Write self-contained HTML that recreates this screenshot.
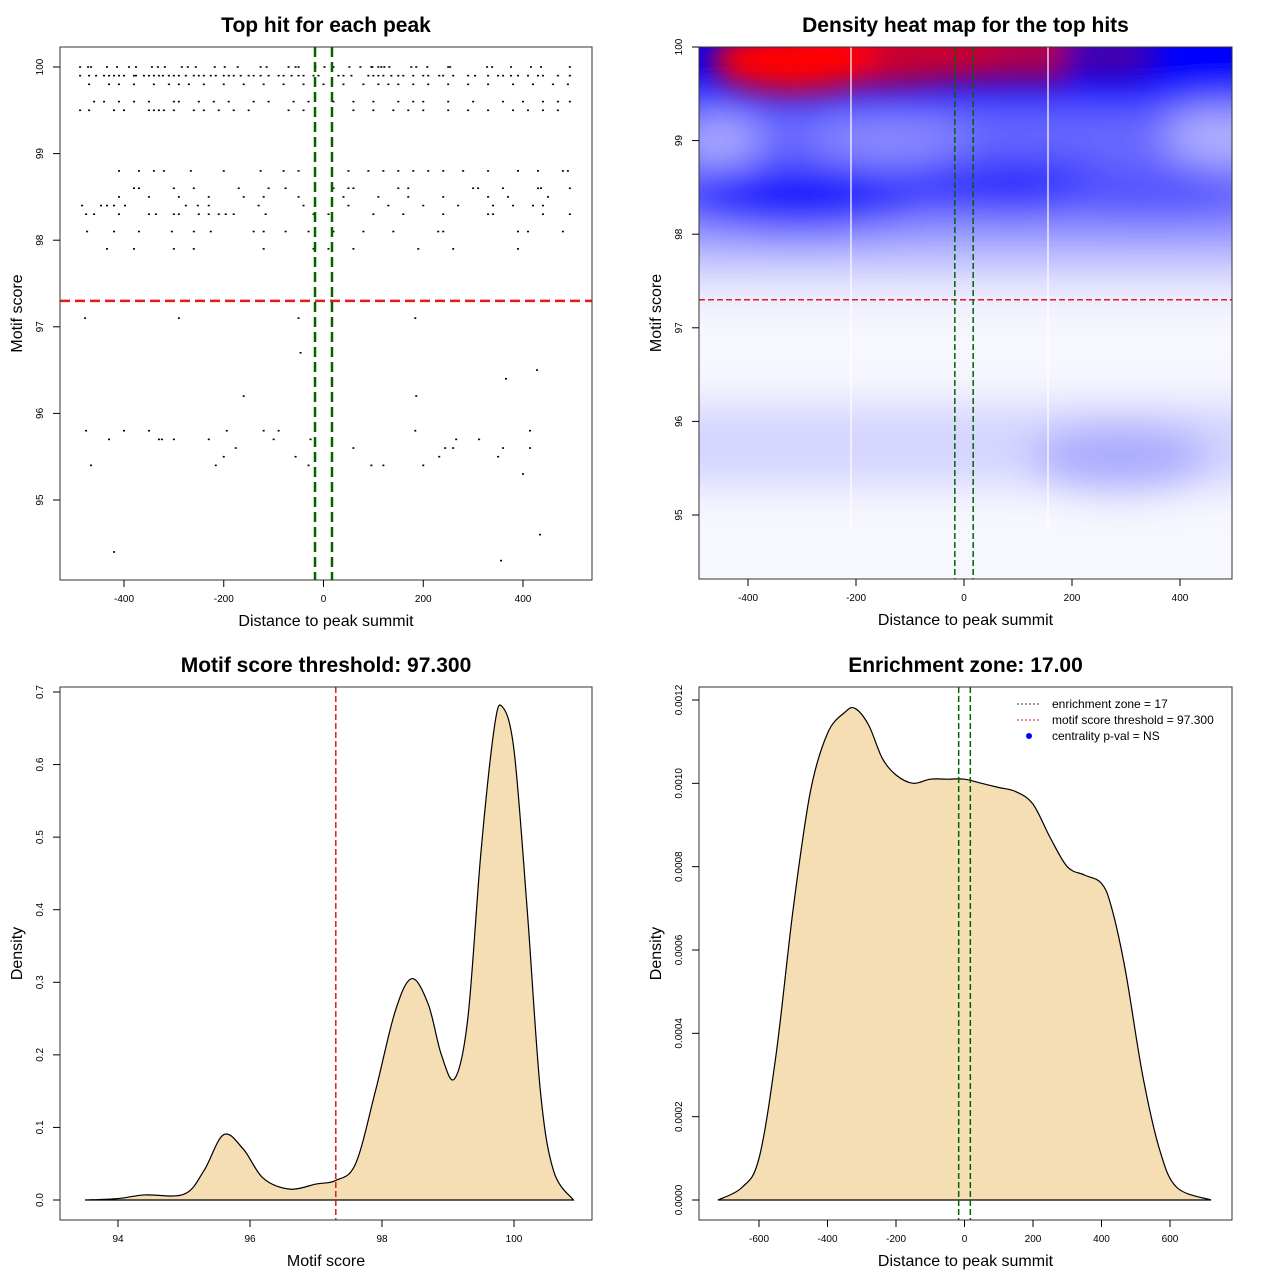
<!DOCTYPE html>
<html><head><meta charset="utf-8"><style>
html,body{margin:0;padding:0;background:#fff;}
svg{display:block;font-family:"Liberation Sans",sans-serif;}
</style></head><body>
<svg id="c" width="1280" height="1280" viewBox="0 0 1280 1280" xmlns="http://www.w3.org/2000/svg">
<defs>
<filter id="blur" x="-50%" y="-50%" width="200%" height="200%"><feGaussianBlur stdDeviation="20"/></filter>
<filter id="blur2" x="-50%" y="-50%" width="200%" height="200%"><feGaussianBlur stdDeviation="14"/></filter>
<clipPath id="hmclip"><rect x="699" y="47" width="533" height="532"/></clipPath>
</defs>
<g id="heat" clip-path="url(#hmclip)">
<rect x="699" y="47" width="533" height="532" fill="#f7f7ff"/>
<g filter="url(#blur)">
<rect x="620" y="405" width="700" height="80" fill="#d4d4ff"/>
<ellipse cx="1120" cy="458" rx="90" ry="32" fill="#a8a8ff"/>
<rect x="620" y="245" width="700" height="55" fill="#e4e4ff"/>
<rect x="620" y="100" width="700" height="150" fill="#6a6aff"/>
<rect x="620" y="225" width="700" height="40" fill="#a8a8ff"/>
<ellipse cx="890" cy="140" rx="80" ry="22" fill="#9090ff"/>
<ellipse cx="720" cy="140" rx="40" ry="25" fill="#b0b0ff"/>
<ellipse cx="1225" cy="135" rx="60" ry="30" fill="#b4b4ff"/>
<ellipse cx="800" cy="198" rx="120" ry="34" fill="#0a0aff"/>
<ellipse cx="1010" cy="184" rx="120" ry="26" fill="#2828ff"/>
<ellipse cx="1150" cy="195" rx="90" ry="25" fill="#5050ff"/>
<rect x="620" y="-20" width="700" height="128" fill="#0000ff"/>
</g>
<g filter="url(#blur2)">
<rect x="800" y="-20" width="270" height="100" fill="#b00048"/>
<ellipse cx="880" cy="55" rx="120" ry="30" fill="#c8002e"/>
<ellipse cx="795" cy="60" rx="85" ry="32" fill="#ff0000"/>
<ellipse cx="1110" cy="55" rx="50" ry="22" fill="#4a00a8"/>
</g>
<line x1="851" y1="47" x2="851" y2="530" stroke="#fff" stroke-width="1.2"/>
<line x1="1048" y1="47" x2="1048" y2="530" stroke="#fff" stroke-width="1.2"/>
</g>
</svg>
<script>
// ---------- data ----------
const scatterScores = [100,99.9,99.8,99.6,99.5,98.8,98.6,98.5,98.4,98.3,98.1,97.9,97.1,96.7,96.5,96.4,96.2,95.8,95.7,95.6,95.5,95.4,95.3,94.6,94.4,94.3];
const scatterDistances = [
[-488,-472,-466,-434,-414,-390,-376,-344,-332,-318,-284,-272,-256,-218,-198,-172,-126,-114,-70,-56,-50,-16,2,20,52,74,96,98,110,116,122,132,176,186,208,250,254,328,338,376,416,436,494],
[-488,-470,-456,-440,-430,-420,-410,-400,-380,-376,-360,-350,-340,-330,-322,-310,-300,-290,-276,-260,-250,-240,-226,-216,-200,-190,-180,-166,-150,-140,-126,-110,-90,-80,-64,-50,-40,-20,-10,30,40,56,90,100,110,120,136,150,160,180,200,210,232,240,260,290,304,330,350,360,376,390,410,430,440,470,494],
[-470,-430,-410,-380,-340,-310,-290,-270,-240,-200,-160,-120,-80,-40,0,40,80,110,130,150,180,210,250,290,330,380,420,460,490],
[-460,-440,-410,-380,-350,-300,-290,-250,-220,-190,-140,-110,-60,-30,20,60,100,150,180,200,250,300,360,400,440,470,494],
[-488,-470,-420,-400,-350,-340,-330,-320,-300,-260,-240,-210,-180,-150,-70,-40,60,100,140,170,200,250,290,330,380,410,440,470],
[-410,-370,-340,-320,-266,-200,-126,-80,-50,50,90,120,150,180,210,240,280,330,390,430,480,490],
[-380,-370,-300,-260,-170,-110,-76,20,50,60,150,170,300,310,360,430,436,494],
[-410,-350,-290,-230,-160,-120,-50,40,110,170,240,330,370,450],
[-484,-446,-434,-420,-398,-276,-252,-230,-130,-40,50,130,200,270,340,380,420,440],
[-476,-460,-410,-350,-336,-300,-290,-250,-230,-210,-196,-180,-116,-20,10,100,160,240,330,340,440,494],
[-474,-420,-370,-304,-260,-226,-140,-120,-76,-30,20,80,140,230,240,390,410,480],
[-434,-380,-300,-260,-120,-20,10,60,190,260,390],
[-478,-290,-50,184],[-46],[428],[366],[-160,186],
[-476,-400,-350,-194,-120,-90,184,414],
[-430,-330,-324,-300,-230,-100,-26,266,312],
[-176,60,244,260,360,414],
[-200,-56,232,350],
[-466,-216,-30,96,120,200],
[400],[434],[-420],[356]
];
const scoreDensX = [93.5,94,94.4,95,95.3,95.6,95.9,96.2,96.6,97,97.3,97.6,97.9,98.2,98.45,98.7,98.9,99.1,99.3,99.5,99.7,99.82,100,100.2,100.4,100.6,100.9];
const scoreDensY = [0,0.002,0.007,0.008,0.04,0.09,0.07,0.03,0.015,0.022,0.027,0.05,0.15,0.26,0.305,0.27,0.2,0.167,0.25,0.48,0.65,0.68,0.62,0.4,0.15,0.04,0];
const distDensX = [-720,-650,-600,-550,-500,-450,-400,-350,-320,-280,-240,-200,-150,-100,-50,0,50,100,150,200,250,300,350,400,430,470,520,570,620,720];
const distDensY = [0,0.00003,0.0001,0.00035,0.0007,0.00098,0.00112,0.00117,0.00118,0.00114,0.00106,0.00102,0.001,0.00101,0.00101,0.00101,0.001,0.00099,0.00098,0.00095,0.00087,0.0008,0.00078,0.00076,0.0007,0.00055,0.0003,0.00012,0.00003,0];
const threshold = 97.3;
const zone = 17;
const p1XTicks=[-400,-200,0,200,400], p1YTicks=[95,96,97,98,99,100];
const p3XTicks=[94,96,98,100], p3YTicks=[0,0.1,0.2,0.3,0.4,0.5,0.6,0.7];
const p3YLabels=["0.0","0.1","0.2","0.3","0.4","0.5","0.6","0.7"];
const p4XTicks=[-600,-400,-200,0,200,400,600], p4YTicks=[0,0.0002,0.0004,0.0006,0.0008,0.001,0.0012];
const p4YLabels=["0.0000","0.0002","0.0004","0.0006","0.0008","0.0010","0.0012"];
const legendLabels=["enrichment zone = 17","motif score threshold = 97.300","centrality p-val = NS"];

// ---------- helpers ----------
const svg=document.getElementById('c');
const NS="http://www.w3.org/2000/svg";
function mk(tag,attrs,parent){const e=document.createElementNS(NS,tag);for(const k in attrs)e.setAttribute(k,attrs[k]);(parent||svg).appendChild(e);return e;}
function txt(x,y,s,size,opts){opts=opts||{};const t=mk('text',{x:x,y:y,'font-size':size,'text-anchor':opts.anchor||'middle','font-weight':opts.bold?'bold':'normal',fill:'#000'});if(opts.rot)t.setAttribute('transform','rotate(-90 '+x+' '+y+')');t.textContent=s;return t;}
function lin(d0,d1,r0,r1){return v=>r0+(v-d0)*(r1-r0)/(d1-d0);}
function axes(box,sx,sy,xt,yt,xl,yl,title,ylabels){
  const b=mk('rect',{x:box[0],y:box[1],width:box[2]-box[0],height:box[3]-box[1],fill:'none',stroke:'#333','stroke-width':1});
  
  const gx=mk('g',{});
  xt.forEach(v=>{const x=sx(v);mk('line',{x1:x,x2:x,y1:box[3],y2:box[3]+7,stroke:'#000'},gx);const t=txt(x,box[3]+22,String(v),10);gx.appendChild(t);});
  const gy=mk('g',{});
  yt.forEach((v,i)=>{const y=sy(v);mk('line',{x1:box[0]-7,x2:box[0],y1:y,y2:y,stroke:'#000'},gy);const t=txt(box[0]-17,y,ylabels?ylabels[i]:String(v),10,{rot:true});gy.appendChild(t);});
  const tx=txt((box[0]+box[2])/2,box[3]+46,xl,16);
  const ty=txt(box[0]-38,(box[1]+box[3])/2,yl,16,{rot:true});
  const tt=txt((box[0]+box[2])/2,box[1]-15,title,21,{bold:true});
}
function smoothPath(pts){let d='M'+pts[0][0]+','+pts[0][1];for(let i=0;i<pts.length-1;i++){const p0=pts[Math.max(i-1,0)],p1=pts[i],p2=pts[i+1],p3=pts[Math.min(i+2,pts.length-1)];const c1=[p1[0]+(p2[0]-p0[0])/6,p1[1]+(p2[1]-p0[1])/6],c2=[p2[0]-(p3[0]-p1[0])/6,p2[1]-(p3[1]-p1[1])/6];d+=' C'+c1[0]+','+c1[1]+' '+c2[0]+','+c2[1]+' '+p2[0]+','+p2[1];}return d;}

// ---------- panel 1 ----------
{const box=[60,47,592,580];const sx=lin(-400,400,124,523),sy=lin(100,95,67,500);
const g=mk('g',{});
scatterScores.forEach((s,i)=>scatterDistances[i].forEach(d=>{mk('rect',{x:sx(d)-1,y:sy(s)-0.8,width:2,height:1.6,fill:'#000'},g);}));
const h=mk('line',{x1:box[0],x2:box[2],y1:sy(threshold),y2:sy(threshold),stroke:'#e41a1c','stroke-width':2.5,'stroke-dasharray':'10,5'});

[-zone,zone].forEach(z=>{const l=mk('line',{x1:sx(z),x2:sx(z),y1:box[1],y2:box[3],stroke:'#006400','stroke-width':2.5,'stroke-dasharray':'10,5'});});
axes(box,sx,sy,p1XTicks,p1YTicks,'Distance to peak summit','Motif score','Top hit for each peak');}

// ---------- panel 2 ----------
{const box=[699,47,1232,579];const sx=lin(-400,400,748,1180),sy=lin(100,95,47,515);
const h=mk('line',{x1:box[0],x2:box[2],y1:sy(threshold),y2:sy(threshold),stroke:'#e41a1c','stroke-width':1.5,'stroke-dasharray':'6,3'});

[-zone,zone].forEach(z=>{const l=mk('line',{x1:sx(z),x2:sx(z),y1:box[1],y2:box[3],stroke:'#006400','stroke-width':1.5,'stroke-dasharray':'6,3'});});
axes(box,sx,sy,p1XTicks,p1YTicks,'Distance to peak summit','Motif score','Density heat map for the top hits');}

// ---------- panel 3 ----------
{const box=[60,687,592,1220];const sx=lin(94,100,118,514),sy=lin(0,0.7,1200,692);
const pts=scoreDensX.map((x,i)=>[sx(x),sy(scoreDensY[i])]);
const p=mk('path',{d:smoothPath(pts)+' Z',fill:'#f5deb3',stroke:'#000','stroke-width':1.2});

const l=mk('line',{x1:sx(threshold),x2:sx(threshold),y1:box[1],y2:box[3],stroke:'#e41a1c','stroke-width':1.5,'stroke-dasharray':'6,3'});

axes(box,sx,sy,p3XTicks,p3YTicks,'Motif score','Density','Motif score threshold: 97.300',p3YLabels);}

// ---------- panel 4 ----------
{const box=[699,687,1232,1220];const sx=lin(-600,600,759,1170),sy=lin(0,0.0012,1200,700);
const pts=distDensX.map((x,i)=>[sx(x),sy(distDensY[i])]);
const p=mk('path',{d:smoothPath(pts)+' Z',fill:'#f5deb3',stroke:'#000','stroke-width':1.2});

[-zone,zone].forEach(z=>{const l=mk('line',{x1:sx(z),x2:sx(z),y1:box[1],y2:box[3],stroke:'#006400','stroke-width':1.5,'stroke-dasharray':'6,3'});});
axes(box,sx,sy,p4XTicks,p4YTicks,'Distance to peak summit','Density','Enrichment zone: 17.00',p4YLabels);
const lg=mk('g',{});
const cols=['#333','#e41a1c','#0000ff'];
legendLabels.forEach((s,i)=>{const y=704+i*16;
 if(i<2)mk('line',{x1:1017,x2:1041,y1:y,y2:y,stroke:cols[i],'stroke-dasharray':'2,2'},lg);
 else mk('circle',{cx:1029,cy:y,r:3,fill:cols[i]},lg);
 const t=txt(1052,y+4,s,12,{anchor:'start'});lg.appendChild(t);});}
</script>
</body></html>
